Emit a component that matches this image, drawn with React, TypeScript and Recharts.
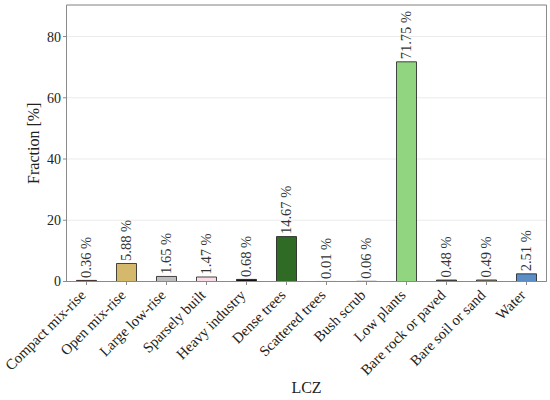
import {
  BarChart,
  Bar,
  XAxis,
  YAxis,
  CartesianGrid,
  Cell,
  LabelList,
  Label,
  ReferenceArea,
} from 'recharts'

// ─── data ────────────────────────────────────────────────────────────────

const CATEGORIES = [
  'Compact mix-rise',
  'Open mix-rise',
  'Large low-rise',
  'Sparsely built',
  'Heavy industry',
  'Dense trees',
  'Scattered trees',
  'Bush scrub',
  'Low plants',
  'Bare rock or paved',
  'Bare soil or sand',
  'Water',
]

const FRACTIONS = [0.36, 5.88, 1.65, 1.47, 0.68, 14.67, 0.01, 0.06, 71.75, 0.48, 0.49, 2.51]

const COLORS = [
  '#8c2424',
  '#d4b96c',
  '#bdbdbd',
  '#f8dce6',
  '#111111',
  '#2f6b25',
  '#4f9a3f',
  '#6b8a3a',
  '#92d580',
  '#555555',
  '#8b8370',
  '#5b8ec6',
]

const Y_TICKS = [0, 20, 40, 60, 80]
const Y_MAX = 90.3

const data = CATEGORIES.map((lcz, i) => ({ lcz, fraction: FRACTIONS[i] }))

const FONT = 'Liberation Serif, DejaVu Serif, serif'
const FRAME = '#8a8a8a'

// ─── custom pieces ───────────────────────────────────────────────────────

function SlantTick({ x, y, payload }: any) {
  // matplotlib rotation=45, ha='right'
  const ax = x - 3.5
  const ay = y + 5.5
  return (
    <text
      x={ax}
      y={ay}
      transform={`rotate(-45, ${ax}, ${ay})`}
      textAnchor="end"
      dominantBaseline="central"
      style={{ fontFamily: FONT, fontSize: 14.8 }}
      fill="#222"
    >
      {payload.value}
    </text>
  )
}

function PercentLabel({ x, y, width, value }: any) {
  const cx = x + width / 2
  const cy = y - 2.5
  return (
    <text
      x={cx}
      y={cy}
      transform={`rotate(-90, ${cx}, ${cy})`}
      textAnchor="start"
      dominantBaseline="central"
      style={{ fontFamily: FONT, fontSize: 14.5 }}
      fill="#333"
    >
      {`${Number(value).toFixed(2)} %`}
    </text>
  )
}

// ─── chart ───────────────────────────────────────────────────────────────

export default function App() {
  return (
    <div style={{ position: 'absolute', left: 0, top: 0, background: '#fff' }}>
      <BarChart
        width={550}
        height={400}
        data={data}
        margin={{ top: 5, right: 3.5, bottom: 0, left: 0 }}
        barCategoryGap="25%"
      >
        <CartesianGrid vertical={false} stroke="#ebebeb" />
        <XAxis
          dataKey="lcz"
          interval={0}
          height={118.5}
          tick={<SlantTick />}
          tickSize={3.5}
          tickLine={{ stroke: FRAME }}
          axisLine={{ stroke: FRAME }}
        >
          <Label
            content={({ viewBox }: any) => (
              <text
                x={viewBox.x + viewBox.width / 2}
                y={viewBox.y + 105.5}
                textAnchor="middle"
                dominantBaseline="central"
                style={{ fontFamily: FONT, fontSize: 16 }}
                fill="#222"
              >
                LCZ
              </text>
            )}
          />
        </XAxis>
        <YAxis
          domain={[0, Y_MAX]}
          ticks={Y_TICKS}
          width={66.5}
          tickSize={3.5}
          tickMargin={2}
          tickLine={{ stroke: FRAME }}
          axisLine={{ stroke: FRAME }}
          tick={{ fontFamily: FONT, fontSize: 14, fill: '#222' }}
        >
          <Label
            content={({ viewBox }: any) => {
              const cx = viewBox.x + 33
              const cy = viewBox.y + viewBox.height / 2
              return (
                <text
                  x={cx}
                  y={cy}
                  transform={`rotate(-90, ${cx}, ${cy})`}
                  textAnchor="middle"
                  dominantBaseline="central"
                  style={{ fontFamily: FONT, fontSize: 16 }}
                  fill="#222"
                >
                  Fraction [%]
                </text>
              )
            }}
          />
        </YAxis>
        <Bar dataKey="fraction" stroke="#1a1a1a" strokeWidth={0.8} isAnimationActive={false}>
          {data.map((d, i) => (
            <Cell key={d.lcz} fill={COLORS[i]} />
          ))}
          <LabelList dataKey="fraction" content={<PercentLabel />} />
        </Bar>
        <ReferenceArea
          y1={0}
          y2={Y_MAX}
          fill="none"
          fillOpacity={0}
          stroke={FRAME}
          strokeWidth={1}
          ifOverflow="visible"
        />
      </BarChart>
    </div>
  )
}
